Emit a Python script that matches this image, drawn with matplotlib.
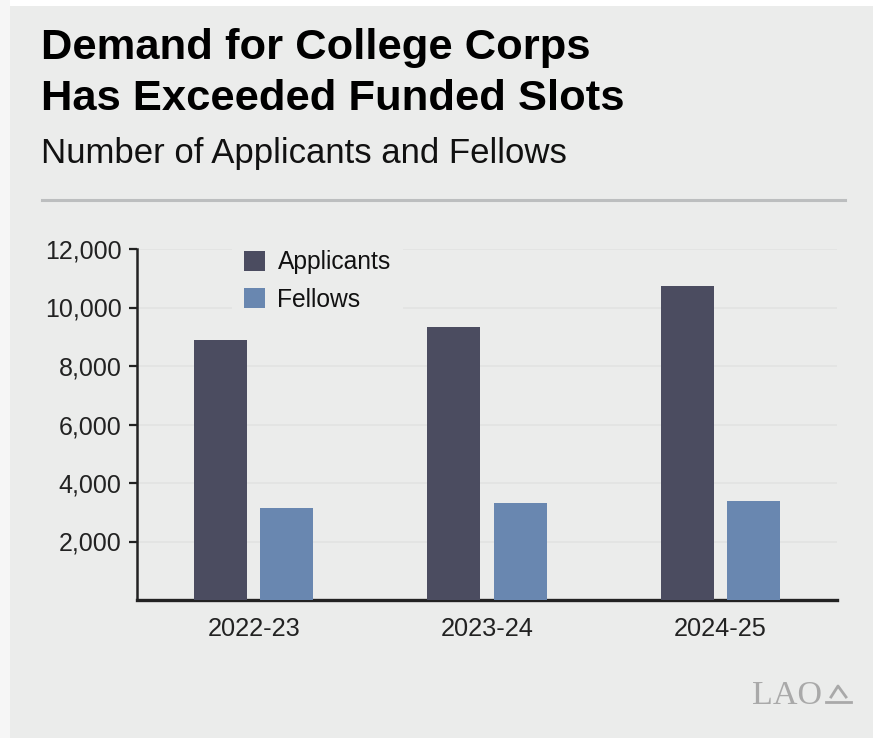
import numpy as np
import matplotlib
matplotlib.use("Agg")
from matplotlib import pyplot as plt
from matplotlib.patches import Rectangle
from matplotlib.lines import Line2D

# data
years = ["2022-23", "2023-24", "2024-25"]
applicants = [8900, 9350, 10750]
fellows = [3150, 3300, 3400]
y_ticks = [2000, 4000, 6000, 8000, 10000, 12000]

BG = "#EBECEB"
APP_COLOR = "#4B4C60"
FEL_COLOR = "#6987B0"

plt.rcParams["font.family"] = ["Liberation Sans", "DejaVu Sans"]

W, H = 873, 738
fig = plt.figure(figsize=(W / 100, H / 100), dpi=100, facecolor="white")

# panel background, kept behind the axes
fig.patches.append(Rectangle((0, 0), 10 / W, 1, transform=fig.transFigure,
                             facecolor="#F6F6F6", edgecolor="none", zorder=-10))
fig.patches.append(Rectangle((10 / W, 0), 1, 1 - 6 / H, transform=fig.transFigure,
                             facecolor=BG, edgecolor="none", zorder=-10))

# titles
fig.text(41 / W, 1 - 59 / H, "Demand for College Corps", fontsize=31.3,
         fontweight="bold", color="black", va="baseline", ha="left")
fig.text(41 / W, 1 - 110 / H, "Has Exceeded Funded Slots", fontsize=31.3,
         fontweight="bold", color="black", va="baseline", ha="left")
fig.text(41 / W, 1 - 163 / H, "Number of Applicants and Fellows", fontsize=25,
         color="#111111", va="baseline", ha="left")
fig.lines.append(Line2D([42 / W, 845 / W], [1 - 200 / H, 1 - 200 / H],
                        transform=fig.transFigure, color="#BCBEBF", lw=2.2))

# chart
ax = fig.add_axes([137 / W, 1 - 600 / H, 700 / W, 351 / H])
ax.set_facecolor("none")
x = np.arange(len(years))
off = 0.142
width = 0.228
ax.bar(x - off, applicants, width, color=APP_COLOR, label="Applicants", zorder=3)
ax.bar(x + off, fellows, width, color=FEL_COLOR, label="Fellows", zorder=3)

ax.set_xlim(-0.5, 2.5)
ax.set_ylim(0, 12000)
ax.set_xticks(x)
ax.set_xticklabels(years)
ax.set_yticks(y_ticks)
ax.set_yticklabels([f"{v:,}" for v in y_ticks])
ax.tick_params(axis="x", length=0, pad=12, labelsize=18.3, labelcolor="#222222")
ax.tick_params(axis="y", length=6, width=1.6, pad=5, direction="out",
               labelsize=18, labelcolor="#222222", color="#222222")
ax.yaxis.grid(True, color="#E2E3E2", lw=1.2, zorder=0)
ax.set_axisbelow(True)
for side in ["top", "right"]:
    ax.spines[side].set_visible(False)
ax.spines["left"].set_linewidth(1.8)
ax.spines["left"].set_color("#222222")
ax.spines["bottom"].set_linewidth(2.4)
ax.spines["bottom"].set_color("#222222")

leg = ax.legend(loc="upper left", bbox_to_anchor=(232 / W, 1 - 238 / H),
                bbox_transform=fig.transFigure, fontsize=17.7, frameon=True,
                facecolor=BG, edgecolor="none", framealpha=1, fancybox=False,
                handlelength=0.85, handleheight=0.85, handletextpad=0.5,
                borderpad=0.5, labelspacing=0.55, borderaxespad=0)
for t in leg.get_texts():
    t.set_color("#111111")

# LAO mark
fig.text(752 / W, 1 - 704 / H, "LAO", fontsize=24.5, family="Liberation Serif",
         color="#A9A9A9", va="baseline", ha="left")
fig.lines.append(Line2D([826 / W, 851 / W], [1 - 702 / H, 1 - 702 / H],
                        transform=fig.transFigure, color="#A9A9A9", lw=2))
fig.lines.append(Line2D([831 / W, 838 / W, 846 / W], [1 - 697 / H, 1 - 686 / H, 1 - 697 / H],
                        transform=fig.transFigure, color="#A9A9A9", lw=2))

fig.savefig("out.png", dpi=100, facecolor=fig.get_facecolor())
